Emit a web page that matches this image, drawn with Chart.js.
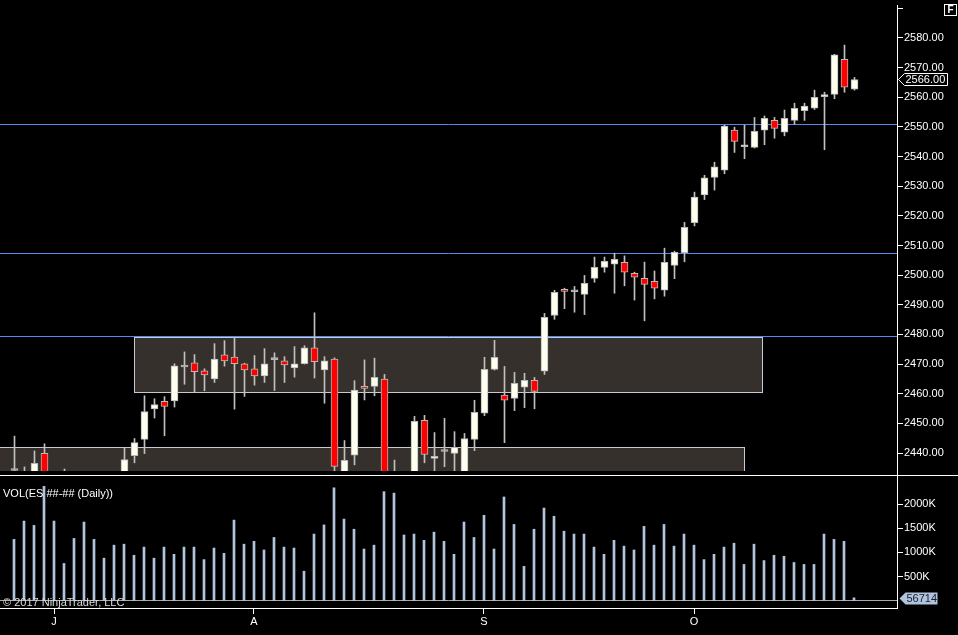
<!DOCTYPE html>
<html><head><meta charset="utf-8">
<script src="https://cdn.jsdelivr.net/npm/chart.js@4.4.1/dist/chart.umd.min.js"></script>
<style>
html,body{margin:0;padding:0;background:#000;overflow:hidden}
#wrap{position:relative;width:958px;height:635px;background:#000}
.pane{position:absolute;left:0;width:958px}
</style></head><body>
<div id="wrap">
<div class="pane" style="top:0;height:476px"><canvas id="c1" width="958" height="476"></canvas></div>
<div class="pane" style="top:476px;height:159px"><canvas id="c2" width="958" height="159"></canvas></div>
</div>
<script>
// ---- data (ES daily, Jun-Oct 2017) ----
const opens = [2434.1,2428,2428,2439.9,2426,2428,2425,2429,2424,2428,
 2425,2430,2439.1,2444.6,2454.9,2457.4,2457.6,2469.0,2470.4,2467.7,
 2465.0,2473.1,2472.4,2470.1,2468.4,2466.0,2471.5,2471.1,2468.7,2470.1,
 2475.5,2468.0,2471.7,2430,2439.3,2462.5,2462.5,2464.9,2430,2428,
 2430,2451.0,2438.2,2440.5,2439.9,2432,2444.6,2453.4,2468.2,2459.5,
 2458.4,2462.2,2464.5,2467.6,2486.4,2495.2,2494.4,2493.5,2498.9,2502.6,
 2503.7,2504.3,2500.6,2498.9,2497.9,2494.9,2503.3,2507.6,2517.7,2527.1,
 2533.0,2535.4,2548.9,2543.3,2543.1,2548.9,2552.2,2548.2,2552.2,2555.5,
 2556.3,2560.2,2561.0,2572.8,2562.7];
const highs = [2445.7,2435.3,2440.7,2443.1,2431,2434.6,2432,2433,2431,2432,
 2430,2441.7,2444.9,2459.3,2458.3,2459.0,2470.1,2474.1,2473.2,2468.4,
 2476.9,2477.9,2479.0,2470.3,2472.9,2475.2,2473.8,2472.5,2475.9,2476.2,
 2487.3,2472.5,2472.1,2444.2,2464.4,2471.4,2472.0,2466.5,2437.6,2433,
 2452.4,2452.7,2446.9,2451.7,2447.2,2446.6,2457.8,2472.3,2478.0,2469.2,
 2467.2,2466.9,2465.5,2487.1,2494.9,2495.6,2496.2,2499.9,2506.1,2506.1,
 2507.4,2506.5,2501.0,2504.4,2501.4,2509.1,2508.1,2517.8,2528.0,2533.7,
 2538.1,2550.6,2549.9,2550.6,2553.2,2553.7,2553.2,2555.7,2558.0,2558.0,
 2562.4,2561.7,2574.5,2577.6,2566.7];
const lows = [2425,2420,2424,2422,2418,2420,2418,2420,2418,2420,
 2419,2426,2436.7,2439.8,2451.8,2445.8,2455.5,2463.2,2460.4,2461.0,
 2463.8,2469.3,2454.8,2459.1,2462.9,2463.8,2461.1,2463.8,2465.6,2470.0,
 2465.3,2456.8,2432,2426,2436,2457.9,2459.3,2425,2425,2424,
 2428,2436.7,2434,2435.4,2434,2430,2440.8,2452.6,2468.0,2443.5,
 2454.3,2455.3,2454.9,2466.5,2485.1,2488.7,2487.5,2486.7,2497.6,2501.0,
 2493.9,2496.4,2491.6,2484.6,2492.0,2492.9,2498.8,2504.5,2516.6,2525.5,
 2528.7,2534.2,2541.4,2539.3,2542.9,2544.0,2546.2,2547.0,2550.9,2552.2,
 2555.9,2542.3,2559.5,2561.7,2562.4];
const closes = [2434.1,2430,2436.5,2426,2428,2425,2429,2424,2428,2425,
 2427,2437.8,2443.5,2454.0,2456.3,2455.7,2469.4,2469.0,2467.4,2466.3,
 2471.7,2471.1,2470.1,2468.0,2466.0,2470.1,2471.5,2469.7,2470.1,2475.5,
 2470.8,2471.1,2435.5,2437.5,2461.2,2461.8,2465.5,2428,2432,2430,
 2450.7,2439.5,2438.9,2440.5,2441.9,2444.9,2453.7,2468.2,2472.3,2457.8,
 2463.5,2464.5,2460.8,2485.8,2494.2,2494.5,2494.4,2497.2,2502.6,2504.7,
 2505.3,2501.0,2499.3,2496.9,2495.6,2504.3,2507.7,2516.1,2526.3,2532.8,
 2536.5,2550.3,2545.1,2543.7,2548.5,2552.9,2549.5,2552.9,2556.3,2557.0,
 2560.0,2560.6,2574.3,2563.4,2566.0];
const volumes = [1270000,1650000,1560000,2370000,1650000,770000,1290000,1630000,1270000,880000,
 1150000,1170000,940000,1110000,880000,1110000,960000,1110000,1110000,850000,
 1090000,980000,1670000,1170000,1230000,1050000,1310000,1110000,1090000,610000,
 1380000,1570000,2340000,1690000,1480000,1070000,1150000,2260000,2230000,1360000,
 1380000,1250000,1420000,1230000,960000,1630000,1310000,1770000,1070000,2150000,
 1580000,710000,1480000,1920000,1750000,1440000,1380000,1380000,1110000,960000,
 1250000,1130000,1050000,1540000,1150000,1580000,1130000,1380000,1150000,850000,
 960000,1110000,1190000,750000,1170000,830000,940000,920000,790000,750000,
 750000,1380000,1270000,1230000,56714];
const monthTickIdx = [4, 24, 47, 68];
const monthTickLabels = ['J', 'A', 'S', 'O'];
const priceTicks = [2440,2450,2460,2470,2480,2490,2500,2510,2520,2530,2540,2550,2560,2570,2580,2590];
const unlabeledPriceTicks = [2590];
const volTicks = [500000,1000000,1500000,2000000];
// horizontal levels and zones (drawing objects)
const levelPrices = [2550.85, 2507.30, 2479.30];
const zoneStart = [12.0, -3];
const zoneEnd = [74.8, 73.0];
const zoneTop = [2478.97, 2441.9];
const zoneBottom = [2460.45, 2420];
// axis ranges
const priceMin = 2433.93, priceMax = 2591.13;
const volMin = -154000, volMax = 2585000;
const idxMin1 = -1.45, idxMax1 = 88.25, idxMin2 = -1.4, idxMax2 = 88.3;

const FONT = '"Liberation Sans", Arial, sans-serif';
const idx = closes.map((_, i) => i);

const candlePlugin = {
  id: 'deco1',
  beforeDatasetsDraw(chart) {
    const {ctx, chartArea: ca, scales: {x, y}} = chart;
    ctx.save();
    ctx.beginPath(); ctx.rect(ca.left, ca.top, ca.right - ca.left, ca.bottom - ca.top); ctx.clip();
    for (let k = 0; k < zoneStart.length; k++) {
      const x0 = Math.floor(x.getPixelForValue(zoneStart[k])) + 0.5;
      const x1 = Math.floor(x.getPixelForValue(zoneEnd[k])) + 0.5;
      const y0 = Math.floor(y.getPixelForValue(zoneTop[k])) + 0.5;
      const y1 = Math.floor(y.getPixelForValue(zoneBottom[k])) + 0.5;
      ctx.fillStyle = '#35302b';
      ctx.fillRect(x0, y0, x1 - x0, y1 - y0);
      ctx.strokeStyle = '#c4cad6'; ctx.lineWidth = 1;
      ctx.strokeRect(x0, y0, x1 - x0, y1 - y0);
    }
    ctx.strokeStyle = '#5588f0'; ctx.lineWidth = 1;
    levelPrices.forEach(p => {
      const py = Math.floor(y.getPixelForValue(p)) + 0.5;
      ctx.beginPath(); ctx.moveTo(ca.left, py); ctx.lineTo(ca.right, py); ctx.stroke();
    });
    ctx.restore();
  },
  afterDraw(chart) {
    const {ctx, chartArea: ca, scales: {y}} = chart;
    ctx.save();
    ctx.strokeStyle = '#ffffff'; ctx.lineWidth = 1;
    ctx.beginPath(); ctx.moveTo(0, 475.5); ctx.lineTo(chart.width, 475.5); ctx.stroke();
    ctx.beginPath(); ctx.moveTo(ca.right + 0.5, ca.bottom); ctx.lineTo(ca.right + 0.5, chart.height); ctx.stroke();
    const last = closes[closes.length - 1];
    const py = Math.round(y.getPixelForValue(last)) + 0.5;
    const tx = ca.right + 1.5;
    ctx.beginPath();
    ctx.moveTo(tx, py); ctx.lineTo(tx + 6, py - 6); ctx.lineTo(tx + 49, py - 6);
    ctx.lineTo(tx + 49, py + 6); ctx.lineTo(tx + 6, py + 6); ctx.closePath();
    ctx.fillStyle = '#000'; ctx.fill(); ctx.stroke();
    ctx.fillStyle = '#fff'; ctx.font = '11px ' + FONT; ctx.textBaseline = 'middle'; ctx.textAlign = 'left';
    ctx.fillText(last.toFixed(2), tx + 7, py + 0.5);
    ctx.strokeRect(944.5, 4.5, 12, 11);
    ctx.font = 'bold 10px ' + FONT; ctx.textAlign = 'center';
    ctx.fillText('F', 950.5, 10.5);
    ctx.restore();
  }
};

new Chart(document.getElementById('c1'), {
  type: 'bar',
  data: {
    datasets: [
      {
        label: 'bodies', order: 0,
        data: idx.map(i => ({x: i, y: [opens[i], closes[i]]})),
        backgroundColor: idx.map(i => closes[i] > opens[i] ? '#fffff0' : (closes[i] < opens[i] ? '#ff0000' : '#b8b8b8')),
        borderColor: '#b8b8b8', borderWidth: 1, borderSkipped: false,
        barThickness: 7, minBarLength: 2, grouped: false, clip: 0
      },
      {
        label: 'wicks', order: 1,
        data: idx.map(i => ({x: i, y: [lows[i], highs[i]]})),
        backgroundColor: '#c0c0c0', borderWidth: 0,
        barThickness: 1, grouped: false, clip: 0
      }
    ]
  },
  options: {
    responsive: false, animation: false,
    layout: {padding: {top: 5, bottom: 5, left: 0, right: 0}},
    plugins: {legend: {display: false}, tooltip: {enabled: false}},
    scales: {
      x: {type: 'linear', min: idxMin1, max: idxMax1, offset: false, grid: {offset: false}, display: false},
      y: {
        position: 'right', min: priceMin, max: priceMax,
        afterBuildTicks: s => { s.ticks = priceTicks.map(v => ({value: v})); },
        afterFit: s => { s.width = 61; s.paddingTop = 0; s.paddingBottom = 0; },
        grid: {drawOnChartArea: false, drawTicks: true, tickLength: 6, color: '#ffffff'},
        border: {display: true, color: '#ffffff', width: 1},
        ticks: {color: '#ffffff', font: {family: FONT, size: 11}, padding: 1,
          callback: v => unlabeledPriceTicks.includes(v) ? '' : v.toFixed(2)}
      }
    }
  },
  plugins: [candlePlugin]
});

const volPlugin = {
  id: 'deco2',
  beforeDatasetsDraw(chart) {
    const {ctx, chartArea: ca, scales: {y}} = chart;
    ctx.save();
    const py = Math.floor(y.getPixelForValue(0)) + 0.5;
    ctx.strokeStyle = '#a8a8a8'; ctx.lineWidth = 1;
    ctx.beginPath(); ctx.moveTo(ca.left, py); ctx.lineTo(ca.right, py); ctx.stroke();
    ctx.restore();
  },
  afterDraw(chart) {
    const {ctx, chartArea: ca, scales: {y}} = chart;
    ctx.save();
    ctx.font = '11px ' + FONT; ctx.textBaseline = 'middle'; ctx.textAlign = 'left';
    ctx.fillStyle = '#ffffff';
    ctx.fillText('VOL(ES ##-## (Daily))', ca.left + 3, ca.top + 17.5);
    ctx.fillStyle = '#dcdcdc';
    ctx.fillText('\u00A9 2017 NinjaTrader, LLC', ca.left + 3, ca.bottom - 5.5);
    const lastV = volumes[volumes.length - 1];
    const py = Math.round(y.getPixelForValue(lastV)) + 0.5;
    const tx = ca.right + 2.5;
    ctx.beginPath();
    ctx.moveTo(tx, py); ctx.lineTo(tx + 6, py - 6); ctx.lineTo(tx + 38, py - 6);
    ctx.lineTo(tx + 38, py + 6); ctx.lineTo(tx + 6, py + 6); ctx.closePath();
    ctx.fillStyle = '#b0c4de'; ctx.fill();
    ctx.fillStyle = '#1a1a2a';
    ctx.fillText(String(lastV), tx + 7, py + 0.5);
    ctx.restore();
  }
};

new Chart(document.getElementById('c2'), {
  type: 'bar',
  data: {
    datasets: [{
      label: 'volume',
      data: idx.map(i => ({x: i, y: volumes[i]})),
      backgroundColor: '#b0c4de', borderWidth: 0,
      barThickness: 2, grouped: false, clip: 0
    }]
  },
  options: {
    responsive: false, animation: false,
    layout: {padding: 0},
    plugins: {legend: {display: false}, tooltip: {enabled: false}},
    scales: {
      x: {
        type: 'linear', min: idxMin2, max: idxMax2, offset: false,
        afterBuildTicks: s => { s.ticks = monthTickIdx.map(v => ({value: v})); },
        afterFit: s => { s.height = 27; s.paddingLeft = 0; s.paddingRight = 0; },
        grid: {offset: false, drawOnChartArea: false, drawTicks: true, tickLength: 6, color: '#ffffff'},
        border: {display: true, color: '#ffffff', width: 1},
        ticks: {color: '#ffffff', font: {family: FONT, size: 11}, padding: 1, autoSkip: false, maxRotation: 0,
          callback: v => { const k = monthTickIdx.indexOf(v); return k >= 0 ? monthTickLabels[k] : ''; }}
      },
      y: {
        position: 'right', min: volMin, max: volMax,
        afterBuildTicks: s => { s.ticks = volTicks.map(v => ({value: v})); },
        afterFit: s => { s.width = 61; s.paddingTop = 0; s.paddingBottom = 0; },
        grid: {drawOnChartArea: false, drawTicks: true, tickLength: 6, color: '#ffffff'},
        border: {display: true, color: '#ffffff', width: 1},
        ticks: {color: '#ffffff', font: {family: FONT, size: 11}, padding: 1,
          callback: v => (v / 1000) + 'K'}
      }
    }
  },
  plugins: [volPlugin]
});
</script>
</body></html>
